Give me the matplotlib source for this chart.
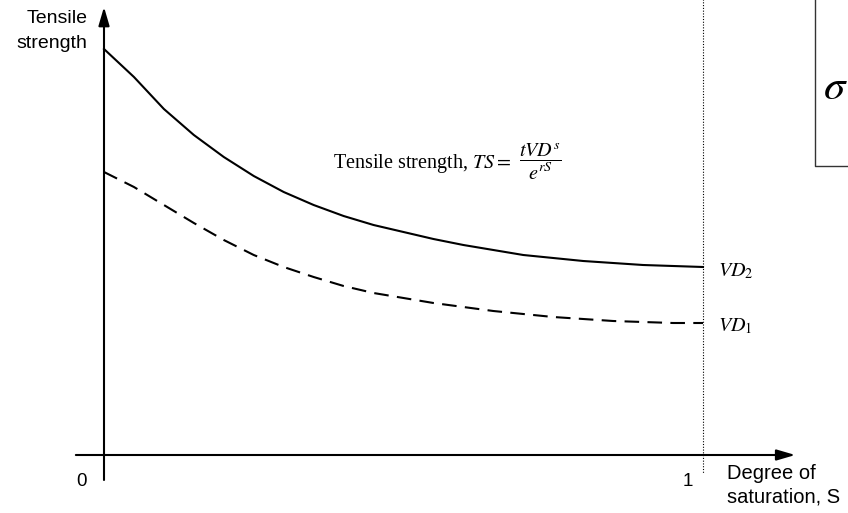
import numpy as np
import matplotlib
matplotlib.use("Agg")
import matplotlib.pyplot as plt

plt.rcParams['font.family'] = ['Liberation Sans', 'DejaVu Sans']
plt.rcParams['mathtext.fontset'] = 'stix'

# degree of saturation S and tensile strength (arbitrary units)
saturation = [0, 0.05, 0.10, 0.15, 0.20, 0.25, 0.30, 0.35, 0.40, 0.45, 0.50,
              0.55, 0.60, 0.65, 0.70, 0.75, 0.80, 0.85, 0.90, 0.95, 1.0]
ts_vd2 = [4.06, 3.78, 3.46, 3.20, 2.98, 2.79, 2.63, 2.50, 2.39, 2.30, 2.23,
          2.16, 2.10, 2.05, 2.00, 1.97, 1.94, 1.92, 1.90, 1.89, 1.88]
ts_vd1 = [2.83, 2.68, 2.50, 2.32, 2.15, 2.00, 1.88, 1.78, 1.69, 1.62, 1.57,
          1.52, 1.48, 1.44, 1.41, 1.38, 1.36, 1.34, 1.33, 1.32, 1.32]
x_ticks = ["0", "1"]

fig = plt.figure(figsize=(8.48, 5.13), dpi=100)
ax = fig.add_axes([0, 0, 1, 1])
ax.set_xlim(-104 / 599, 744 / 599)
ax.set_ylim(-0.58, 4.55)
ax.axis('off')

# curves
ax.plot(saturation, ts_vd2, color='black', lw=1.5)
ax.plot(saturation, ts_vd1, color='black', lw=1.5, dashes=(7, 4))

# axes with arrow heads
arrow = dict(arrowstyle='-|>,head_length=0.75,head_width=0.22', lw=1.5,
             color='black', shrinkA=0, shrinkB=0, mutation_scale=15)
ax.annotate('', xy=(0, 4.48), xytext=(0, -0.25), arrowprops=arrow)
ax.annotate('', xy=(1.154, 0), xytext=(-0.047, 0), arrowprops=arrow)

# dotted line at S = 1
ax.plot([1, 1], [4.7, -0.18], color='black', lw=0.8, ls=(0, (1, 1.5)))

# partly visible box on the right
ax.plot([1.187, 1.187, 1.3], [4.7, 2.89, 2.89], color='#333333', lw=1,
        clip_on=False)
ax.text(1.200, 3.67, r'$\sigma$', fontsize=31, ha='left', va='center')

# labels
ax.text(-0.028, 4.24, 'Tensile\nstrength', fontsize=14, ha='right',
        va='center', multialignment='right', linespacing=1.55)
ax.text(-0.037, -0.27, x_ticks[0], fontsize=13.5, ha='center', va='center')
ax.text(0.975, -0.27, x_ticks[1], fontsize=13.5, ha='center', va='center')
ax.text(1.040, -0.30, 'Degree of\nsaturation, S', fontsize=14.5, ha='left',
        va='center', multialignment='left', linespacing=1.3)

ax.text(0.382, 2.87, r'Tensile strength, $TS =$',
        fontsize=14.5, family='Liberation Serif', ha='left', va='baseline')
ax.text(0.693, 2.93, r'$\dfrac{tVD^s}{e^{rS}}$', fontsize=14.5,
        ha='left', va='center')
ax.text(1.025, 1.84, r'$VD_2$', fontsize=14.5, ha='left', va='center')
ax.text(1.025, 1.29, r'$VD_1$', fontsize=14.5, ha='left', va='center')

fig.savefig('out.png', dpi=100)
